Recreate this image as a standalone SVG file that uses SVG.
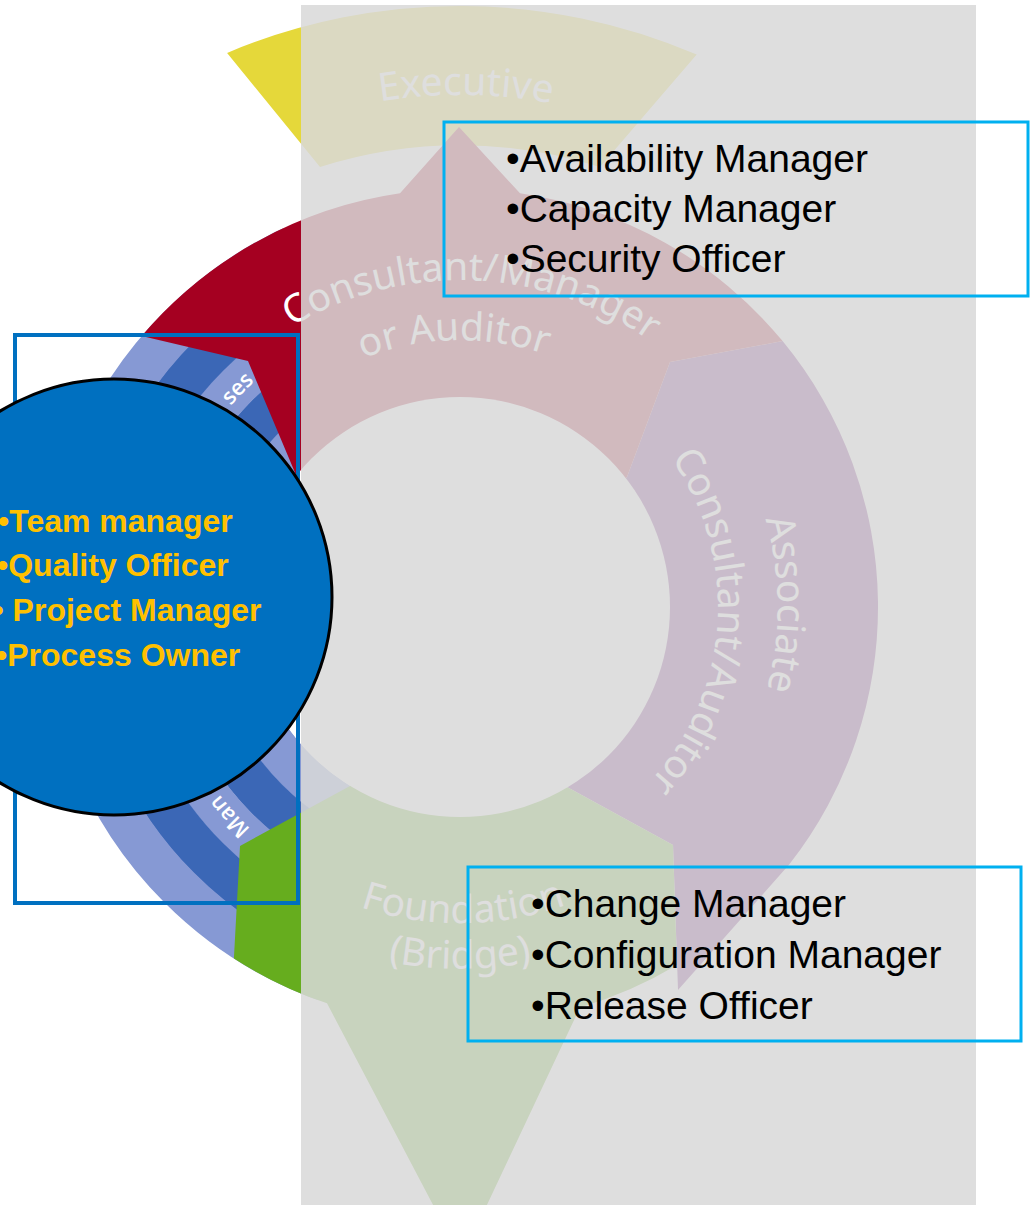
<svg xmlns="http://www.w3.org/2000/svg" xmlns:xlink="http://www.w3.org/1999/xlink" width="1030" height="1205" viewBox="0 0 1030 1205">
<style>
.wl{font-family:"Noto Sans","Open Sans","DejaVu Sans",sans-serif;font-size:39px;fill:#ffffff}
.ml{font-family:"Open Sans","Noto Sans",sans-serif;font-size:22px;font-weight:600;fill:#ffffff}
.yl{font-family:"Liberation Sans",Arial,sans-serif;font-size:32px;font-weight:bold;fill:#ffc000}
.bl{font-family:"Liberation Sans",Arial,sans-serif;font-size:39px;fill:#000000}
.cbox{fill:none;stroke:#00b0f0;stroke-width:3}
.band{fill:none;stroke-width:42}
.lb{stroke:#8699d4}
.db{stroke:#3b67b6}
</style>
<defs>
<clipPath id="blueClip"><polygon points="460,607 282.2,1095.6 61.7,941.3 -52.1,697.3 -28.6,429.2 125.8,208.7 240.2,135.7"/></clipPath>
<path id="pExec" d="M204,163.6 A512,512 0 0 1 716,163.6"/>
<path id="pCons1" d="M135.6,566 A327,327 0 0 1 786.6,591"/>
<path id="pCons2" d="M193.6,589.8 A267,267 0 0 1 725.4,577.7"/>
<path id="pAssoc1" d="M485,290 A318,318 0 0 1 490.5,923.5"/>
<path id="pAssoc2" d="M499.5,352 A258,258 0 0 1 465.4,864.9"/>
<path id="pFound1" d="M145.5,637.8 A316,316 0 0 0 775.1,631.2"/>
<path id="pFound2" d="M99.4,638.6 A362,362 0 0 0 820.6,638.6"/>
<path id="pMgmt" d="M307.5,871.1 A305,305 0 0 1 307.5,342.9"/>
</defs>
<rect x="0" y="0" width="1030" height="1205" fill="#ffffff"/>

<g id="executive">
<path d="M227.1,52.9 A601,601 0 0 1 696.7,54.6 L600,167 A462,462 0 0 0 320,167 Z" fill="#e5d83a"/>
<text class="wl"><textPath xlink:href="#pExec" href="#pExec" startOffset="51.1%" text-anchor="middle">Executive</textPath></text>
</g>

<g id="management">
<g clip-path="url(#blueClip)">
<circle class="band lb" cx="460" cy="607" r="230.8"/>
<circle class="band db" cx="460" cy="607" r="272.4"/>
<circle class="band lb" cx="460" cy="607" r="314"/>
<circle class="band db" cx="460" cy="607" r="355.6"/>
<circle class="band lb" cx="460" cy="607" r="397"/>
</g>
<text class="ml"><textPath xlink:href="#pMgmt" href="#pMgmt" startOffset="71">Man</textPath></text>
<text class="ml"><textPath xlink:href="#pMgmt" href="#pMgmt" startOffset="573" text-anchor="end">ses</textPath></text>
</g>

<g id="associate">
<path d="M460,607 L627,477 L670,362 L782.6,341.1 A418,418 0 0 1 789.4,864.3 L678,990 L673,845 L567,787 Z" fill="#6e1478"/>
</g>

<g id="foundation">
<path d="M460,607 L567,787 L673,845 L677,965 A418,418 0 0 1 580,1007.4 L461.5,1259 L327,1003.3 A418,418 0 0 1 233.9,958.5 L240,846 L350,786 Z" fill="#66ad1e"/>
</g>

<g id="consultant">
<path d="M460,607 L296,475 L248,361 L141.6,336.1 A418,418 0 0 1 400,193.3 L459,127 L520,193.3 A418,418 0 0 1 782.6,341.1 L670,362 L627,477 Z" fill="#a50021"/>
</g>

<g id="hole">
<circle cx="460" cy="607" r="210" fill="#ffffff"/>
</g>

<g id="wheel-labels">
<text class="wl"><textPath xlink:href="#pCons1" href="#pCons1" startOffset="50%" text-anchor="middle">Consultant/Manager</textPath></text>
<text class="wl"><textPath xlink:href="#pCons2" href="#pCons2" startOffset="50%" text-anchor="middle">or Auditor</textPath></text>
<text class="wl"><textPath xlink:href="#pAssoc1" href="#pAssoc1" startOffset="50%" text-anchor="middle">Associate</textPath></text>
<text class="wl"><textPath xlink:href="#pAssoc2" href="#pAssoc2" startOffset="50%" text-anchor="middle">Consultant/Auditor</textPath></text>
<text class="wl"><textPath xlink:href="#pFound1" href="#pFound1" startOffset="50%" text-anchor="middle">Foundation</textPath></text>
<text class="wl"><textPath xlink:href="#pFound2" href="#pFound2" startOffset="50%" text-anchor="middle">(Bridge)</textPath></text>
</g>

<g id="overlay">
<rect x="301" y="5" width="675" height="1200" fill="#d9d9d9" fill-opacity="0.86"/>
</g>

<g id="connectors"></g>

<g id="focus-box">
<rect x="15" y="335" width="283" height="568" fill="none" stroke="#0070c0" stroke-width="4"/>
</g>

<g id="focus-circle">
<circle cx="114" cy="597" r="218" fill="#0070c0" stroke="#000000" stroke-width="3"/>
<text class="yl" x="-2" y="532">•Team manager</text>
<text class="yl" x="-3" y="576">•Quality Officer</text>
<text class="yl" x="-7.5" y="621">• Project Manager</text>
<text class="yl" x="-4" y="666">•Process Owner</text>
</g>

<g id="box-top">
<rect class="cbox" x="444" y="122" width="584" height="174"/>
<text class="bl" x="506" y="172">•Availability Manager</text>
<text class="bl" x="506" y="222">•Capacity Manager</text>
<text class="bl" x="506" y="272">•Security Officer</text>
</g>

<g id="box-bottom">
<rect class="cbox" x="468" y="867" width="553" height="174"/>
<text class="bl" x="531" y="917">•Change Manager</text>
<text class="bl" x="531" y="968">•Configuration Manager</text>
<text class="bl" x="531" y="1019">•Release Officer</text>
</g>
</svg>
